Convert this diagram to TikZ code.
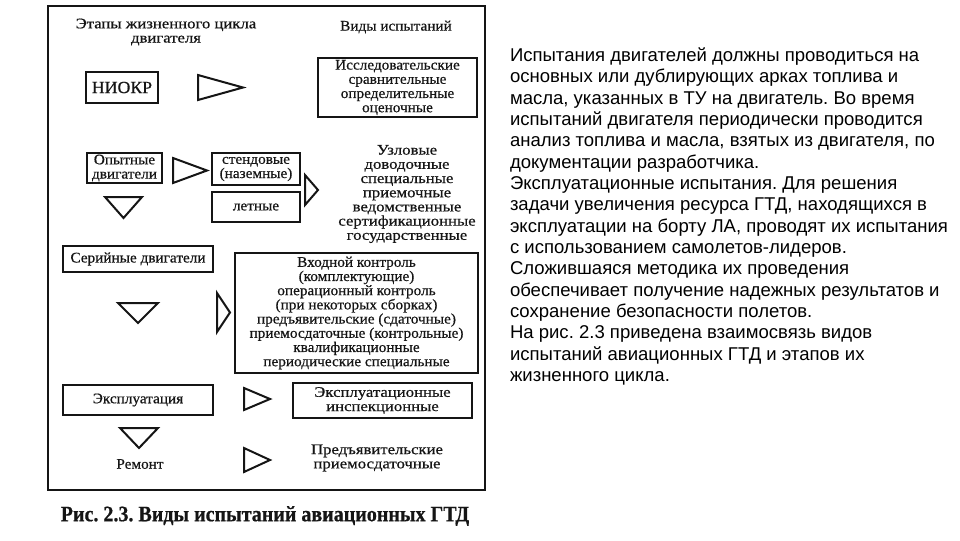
\documentclass[tikz,border=0pt]{standalone}
\usepackage{fontspec}
\setmainfont{Liberation Sans}
\newfontfamily\scanfont[FakeStretch=1.04,FakeBold=0.6]{Liberation Serif}
\newfontfamily\widefont[FakeStretch=1.14,FakeBold=0.6]{Liberation Serif}
\newfontfamily\capfont[FakeStretch=0.91,FakeBold=0.6]{Liberation Serif}
\definecolor{ink}{HTML}{151515}
\frenchspacing
\tikzset{
  every node/.style={inner sep=0pt, outer sep=0pt},
  sbox/.style={draw=ink, line width=1.6pt, text=ink, align=center,
    font=\scanfont\fontsize{11}{10.65}\selectfont},
  stxt/.style={text=ink, align=center, font=\scanfont\fontsize{11}{10.65}\selectfont},
  wtxt/.style={text=ink, align=center, font=\widefont\fontsize{11}{10.65}\selectfont},
  tri/.style={draw=ink, line width=1.5pt, line join=miter},
  frame/.style={draw=ink, line width=2.2pt},
  para/.style={anchor=base west, text=black, font=\fontsize{13.9}{16.1}\selectfont}
}
\begin{document}
\begin{tikzpicture}[x=0.75pt, y=-0.75pt]
\useasboundingbox (0,0) rectangle (960,540);
% frame
\draw[frame] (48,6) rectangle (485,490);
% headers
\node[wtxt] (hstage) at (166,32) {Этапы жизненного цикла\\двигателя};
\node[stxt] (htype) at (396,27) {Виды испытаний};
% left column
\node[sbox, minimum width=54pt, minimum height=23.25pt, font=\scanfont\fontsize{12.8}{13}\selectfont] (niokr) at (122,87.5) {НИОКР};
\node[sbox, minimum width=56.25pt, minimum height=22.5pt] (opyt) at (124.5,168) {Опытные\\двигатели};
\node[sbox, minimum width=66pt, minimum height=24pt] (stend) at (256,169) {стендовые\\(наземные)};
\node[sbox, minimum width=66pt, minimum height=22.5pt] (letn) at (256,207) {летные};
\node[sbox, minimum width=112.5pt, minimum height=19.5pt] (serial) at (138,259) {Серийные двигатели};
\node[sbox, minimum width=112.5pt, minimum height=22.5pt] (ekspl) at (138,400) {Эксплуатация};
\node[stxt] (remont) at (140,464) {Ремонт};
% right column
\node[sbox, minimum width=119.25pt, minimum height=44.25pt] (issl) at (397.5,87.5)
  {Исследовательские\\сравнительные\\определительные\\оценочные};
\node[wtxt] (uzl) at (407,194)
  {Узловые\\доводочные\\специальные\\приемочные\\ведомственные\\сертификационные\\государственные};
\node[sbox, minimum width=182.25pt, minimum height=90pt] (vhod) at (356.5,313)
  {Входной контроль\\(комплектующие)\\операционный контроль\\(при некоторых сборках)\\предъявительские (сдаточные)\\приемосдаточные (контрольные)\\квалификационные\\периодические специальные};
\node[sbox, minimum width=134.25pt, minimum height=26.25pt, font=\widefont\fontsize{11}{10.65}\selectfont] (ekspl2) at (382.5,400.5)
  {Эксплуатационные\\инспекционные};
\node[wtxt] (pred) at (377,458) {Предъявительские\\приемосдаточные};
% triangles
\draw[tri] (198,75) -- (243,87.5) -- (198,100) -- cycle;
\draw[tri] (173,158) -- (207,170.5) -- (173,183) -- cycle;
\draw[tri] (305,175) -- (318,190) -- (305,205) -- cycle;
\draw[tri] (105,197) -- (142,197) -- (123.5,218) -- cycle;
\draw[tri] (217,293) -- (230,312.5) -- (217,332) -- cycle;
\draw[tri] (118,303) -- (158,303) -- (138,323) -- cycle;
\draw[tri] (244,388) -- (270,399) -- (244,410) -- cycle;
\draw[tri] (120,428) -- (158,428) -- (139,448) -- cycle;
\draw[tri] (244,448) -- (270,460) -- (244,472) -- cycle;
% caption
\node[text=ink, font=\capfont\bfseries\fontsize{16.5}{18}\selectfont] (caption) at (265,516)
  {Рис. 2.3. Виды испытаний авиационных ГТД};
% paragraph
\foreach \t [count=\i] in {
  {Испытания двигателей должны проводиться на},
  {основных или дублирующих арках топлива и},
  {масла, указанных в ТУ на двигатель. Во время},
  {испытаний двигателя периодически проводится},
  {анализ топлива и масла, взятых из двигателя, по},
  {документации разработчика.},
  {Эксплуатационные испытания. Для решения},
  {задачи увеличения ресурса ГТД, находящихся в},
  {эксплуатации на борту ЛА, проводят их испытания},
  {с использованием самолетов-лидеров.},
  {Сложившаяся методика их проведения},
  {обеспечивает получение надежных результатов и},
  {сохранение безопасности полетов.},
  {На рис. 2.3 приведена взаимосвязь видов},
  {испытаний авиационных ГТД и этапов их},
  {жизненного цикла.}}
  \node[para] (p\i) at (510,{61.4+21.35*(\i-1)}) {\t};
\end{tikzpicture}
\end{document}
